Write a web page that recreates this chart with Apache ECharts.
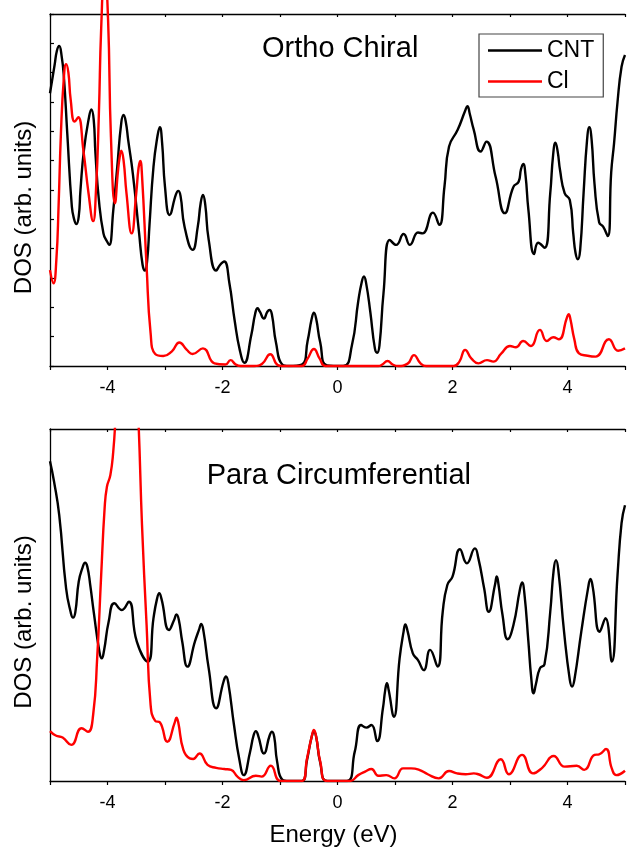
<!DOCTYPE html>
<html>
<head>
<meta charset="utf-8">
<script src="https://cdn.jsdelivr.net/npm/echarts@6/dist/echarts.min.js"></script>
<style>
  html, body { margin: 0; padding: 0; background: #fff; }
  #chart { width: 628px; height: 850px; }
</style>
</head>
<body>
<div id="chart"></div>
<script>
// Energy axis ticks (eV)
const energyTicks = [-4, -2, 0, 2, 4];

// Ortho Chiral: CNT total DOS, [energy (eV), DOS]
const orthoCnt = [
  [-5.00, 9.30], [-4.92, 10.26], [-4.88, 10.75], [-4.84, 10.91], [-4.80, 10.60], [-4.76, 9.90], [-4.70, 7.94],
  [-4.62, 5.43], [-4.58, 5.00], [-4.54, 4.84], [-4.50, 5.10], [-4.47, 6.00], [-4.41, 7.36], [-4.32, 8.50],
  [-4.28, 8.75], [-4.24, 8.40], [-4.21, 7.26], [-4.15, 5.66], [-4.07, 4.52], [-4.01, 4.25], [-3.97, 4.13],
  [-3.90, 5.30], [-3.83, 6.80], [-3.76, 8.30], [-3.72, 8.56], [-3.68, 8.30], [-3.64, 7.70], [-3.56, 6.57],
  [-3.45, 4.52], [-3.39, 3.45], [-3.35, 3.25], [-3.31, 3.60], [-3.27, 4.80], [-3.20, 6.80], [-3.13, 7.85],
  [-3.09, 8.14], [-3.05, 7.60], [-3.00, 6.11], [-2.92, 5.15], [-2.81, 5.85], [-2.77, 5.97], [-2.73, 5.80],
  [-2.66, 4.75], [-2.52, 3.96], [-2.43, 4.75], [-2.38, 5.55], [-2.34, 5.83], [-2.30, 5.50], [-2.24, 4.30],
  [-2.11, 3.25], [-2.04, 3.45], [-1.97, 3.56], [-1.88, 2.82], [-1.79, 1.57], [-1.70, 0.55], [-1.62, 0.11],
  [-1.50, 1.05], [-1.43, 1.80], [-1.39, 1.97], [-1.35, 1.85], [-1.28, 1.62], [-1.22, 1.85], [-1.18, 1.91],
  [-1.14, 1.75], [-1.07, 0.80], [-0.96, 0.05], [-0.85, 0.00], [-0.62, 0.05], [-0.52, 0.85], [-0.45, 1.60],
  [-0.41, 1.82], [-0.37, 1.60], [-0.30, 0.80], [-0.18, 0.02], [0.10, 0.00], [0.25, 0.70], [0.36, 2.20],
  [0.42, 2.85], [0.46, 3.05], [0.50, 2.80], [0.57, 1.85], [0.65, 0.60], [0.69, 0.45], [0.73, 0.70],
  [0.80, 2.48], [0.91, 4.30], [1.02, 4.13], [1.15, 4.50], [1.26, 4.13], [1.40, 4.55], [1.48, 4.52],
  [1.66, 5.23], [1.77, 4.81], [1.86, 6.11], [1.94, 7.48], [2.09, 8.05], [2.22, 8.70], [2.26, 8.86],
  [2.30, 8.60], [2.37, 8.05], [2.49, 7.31], [2.59, 7.65], [2.75, 6.45], [2.91, 5.21], [3.06, 6.11],
  [3.15, 6.28], [3.19, 6.70], [3.23, 6.89], [3.27, 6.50], [3.32, 5.32], [3.42, 3.82], [3.49, 4.20],
  [3.60, 4.03], [3.70, 5.89], [3.75, 7.20], [3.79, 7.61], [3.83, 7.30], [3.87, 6.68], [3.95, 5.89],
  [4.04, 5.66], [4.10, 4.52], [4.14, 3.85], [4.18, 3.64], [4.22, 3.95], [4.28, 5.90], [4.34, 7.70],
  [4.38, 8.14], [4.42, 7.70], [4.47, 6.20], [4.55, 4.90], [4.62, 4.75], [4.70, 4.43], [4.76, 6.60],
  [4.81, 7.60], [4.87, 9.00], [4.94, 10.20], [5.00, 10.60]
];

// Ortho Chiral: Cl projected DOS
const orthoCl = [
  [-5.00, 3.27], [-4.94, 2.82], [-4.89, 3.60], [-4.85, 5.50], [-4.81, 7.93], [-4.76, 9.80], [-4.72, 10.29],
  [-4.68, 10.00], [-4.64, 9.07], [-4.57, 8.33], [-4.51, 8.48], [-4.42, 7.36], [-4.33, 5.89], [-4.25, 4.94],
  [-4.20, 6.00], [-4.15, 8.60], [-4.11, 11.50], [-4.05, 13.60], [-3.99, 11.80], [-3.94, 7.80], [-3.87, 5.55],
  [-3.82, 6.60], [-3.79, 7.10], [-3.76, 7.34], [-3.72, 7.00], [-3.67, 5.89], [-3.58, 4.52], [-3.50, 5.89],
  [-3.46, 6.75], [-3.43, 6.99], [-3.40, 6.50], [-3.32, 3.39], [-3.25, 1.11], [-3.17, 0.41], [-3.03, 0.34],
  [-2.88, 0.50], [-2.75, 0.80], [-2.62, 0.55], [-2.52, 0.41], [-2.34, 0.60], [-2.14, 0.09], [-1.95, 0.05],
  [-1.86, 0.20], [-1.77, 0.05], [-1.68, 0.00], [-1.45, 0.00], [-1.31, 0.08], [-1.17, 0.40], [-1.04, 0.03],
  [-0.96, 0.00], [-0.62, 0.00], [-0.52, 0.25], [-0.41, 0.58], [-0.31, 0.25], [-0.21, 0.00], [0.71, 0.00],
  [0.78, 0.05], [0.87, 0.17], [0.96, 0.05], [1.05, 0.00], [1.22, 0.08], [1.33, 0.37], [1.44, 0.10],
  [1.54, 0.00], [2.02, 0.00], [2.12, 0.15], [2.22, 0.55], [2.33, 0.25], [2.45, 0.09], [2.60, 0.20],
  [2.71, 0.15], [2.85, 0.43], [3.00, 0.68], [3.10, 0.64], [3.23, 0.85], [3.36, 0.68], [3.52, 1.23],
  [3.64, 0.85], [3.75, 0.98], [3.85, 0.91], [3.99, 1.65], [4.02, 1.77], [4.05, 1.60], [4.12, 0.90],
  [4.20, 0.43], [4.35, 0.35], [4.49, 0.32], [4.72, 0.91], [4.88, 0.52], [5.00, 0.60]
];

// Para Circumferential: CNT total DOS
const paraCnt = [
  [-5.00, 10.90], [-4.93, 10.21], [-4.84, 9.07], [-4.72, 6.57], [-4.64, 5.75], [-4.60, 5.57], [-4.56, 5.75],
  [-4.50, 6.80], [-4.43, 7.30], [-4.39, 7.44], [-4.35, 7.30], [-4.30, 6.68], [-4.24, 5.77], [-4.14, 4.40],
  [-4.10, 4.18], [-4.06, 4.45], [-3.98, 5.43], [-3.88, 6.06], [-3.75, 5.83], [-3.63, 6.11], [-3.49, 4.75],
  [-3.30, 4.07], [-3.20, 5.55], [-3.14, 6.20], [-3.10, 6.40], [-3.06, 6.20], [-2.93, 5.15], [-2.84, 5.50],
  [-2.80, 5.68], [-2.76, 5.50], [-2.70, 4.75], [-2.61, 3.90], [-2.48, 4.75], [-2.41, 5.15], [-2.37, 5.35],
  [-2.33, 5.10], [-2.24, 3.84], [-2.11, 2.48], [-1.98, 3.40], [-1.94, 3.56], [-1.90, 3.35], [-1.80, 1.91],
  [-1.71, 0.77], [-1.63, 0.20], [-1.52, 1.00], [-1.46, 1.55], [-1.42, 1.70], [-1.38, 1.55], [-1.28, 0.94],
  [-1.18, 1.55], [-1.14, 1.68], [-1.10, 1.50], [-1.05, 0.66], [-0.96, 0.05], [-0.85, 0.00], [-0.62, 0.00],
  [-0.53, 0.72], [-0.45, 1.50], [-0.41, 1.68], [-0.37, 1.50], [-0.30, 0.62], [-0.18, 0.00], [0.16, 0.00],
  [0.30, 1.00], [0.41, 1.91], [0.50, 1.82], [0.59, 1.91], [0.69, 1.36], [0.79, 2.48], [0.83, 3.10],
  [0.86, 3.33], [0.89, 3.10], [0.98, 2.19], [1.08, 4.18], [1.15, 5.10], [1.18, 5.34], [1.22, 5.10],
  [1.31, 4.35], [1.40, 4.12], [1.50, 3.78], [1.61, 4.47], [1.74, 3.90], [1.83, 5.77], [1.91, 6.68],
  [2.00, 6.97], [2.13, 7.90], [2.25, 7.42], [2.39, 7.93], [2.45, 7.59], [2.55, 6.57], [2.63, 5.77],
  [2.74, 6.70], [2.77, 6.97], [2.80, 6.70], [2.87, 5.66], [2.96, 4.83], [3.06, 5.32], [3.17, 6.50],
  [3.21, 6.77], [3.25, 6.40], [3.32, 4.75], [3.37, 3.50], [3.41, 2.99], [3.45, 3.30], [3.52, 3.84],
  [3.60, 3.98], [3.70, 5.77], [3.76, 7.20], [3.80, 7.53], [3.84, 7.20], [3.94, 5.09], [4.04, 3.45],
  [4.08, 3.22], [4.12, 3.45], [4.24, 5.09], [4.36, 6.60], [4.40, 6.89], [4.44, 6.60], [4.56, 5.09],
  [4.66, 5.55], [4.77, 4.07], [4.87, 7.02], [4.94, 8.79], [5.00, 9.40]
];

// Para Circumferential: Cl projected DOS
const paraCl = [
  [-5.00, 1.70], [-4.90, 1.55], [-4.78, 1.48], [-4.63, 1.23], [-4.45, 1.80], [-4.34, 1.68], [-4.25, 2.25],
  [-4.18, 4.18], [-4.11, 7.02], [-4.05, 9.30], [-4.01, 10.03], [-3.95, 10.43], [-3.90, 11.23], [-3.86, 12.40],
  [-3.80, 14.50], [-3.66, 15.50], [-3.52, 14.50], [-3.46, 12.20], [-3.40, 8.73], [-3.32, 5.32], [-3.25, 2.59],
  [-3.17, 2.05], [-3.09, 2.00], [-2.96, 1.34], [-2.83, 2.00], [-2.80, 2.16], [-2.77, 2.00], [-2.68, 1.06],
  [-2.57, 0.77], [-2.51, 0.75], [-2.40, 0.94], [-2.26, 0.55], [-2.11, 0.45], [-1.97, 0.41], [-1.85, 0.38],
  [-1.74, 0.15], [-1.63, 0.03], [-1.42, 0.18], [-1.32, 0.15], [-1.16, 0.52], [-0.99, 0.00], [-0.62, 0.00],
  [-0.53, 0.77], [-0.45, 1.50], [-0.41, 1.74], [-0.37, 1.50], [-0.30, 0.66], [-0.18, 0.00], [0.22, 0.00],
  [0.36, 0.20], [0.48, 0.32], [0.59, 0.41], [0.71, 0.18], [0.85, 0.20], [0.99, 0.09], [1.14, 0.43],
  [1.28, 0.43], [1.42, 0.38], [1.57, 0.23], [1.76, 0.09], [1.94, 0.34], [2.08, 0.26], [2.23, 0.23],
  [2.37, 0.26], [2.45, 0.23], [2.60, 0.11], [2.84, 0.74], [2.98, 0.23], [3.21, 0.89], [3.40, 0.26],
  [3.56, 0.45], [3.76, 0.85], [3.95, 0.49], [4.16, 0.52], [4.29, 0.38], [4.47, 0.89], [4.55, 0.91],
  [4.67, 1.09], [4.77, 0.43], [4.85, 0.20], [5.00, 0.35]
];

const FONT = "'Liberation Sans', Arial, Helvetica, sans-serif";
const AXIS_COLOR = '#000';
const gridLeft = 50, gridWidth = 580.5, gridHeight = 352;
const gridTops = [14, 429];

function bottomAxis(gi) {
  return {
    type: 'value', gridIndex: gi, position: 'bottom', min: -5, max: 5, interval: 1,
    axisLine: { onZero: false, lineStyle: { color: AXIS_COLOR, width: 1.3 } },
    axisTick: { inside: false, length: 4, lineStyle: { color: AXIS_COLOR, width: 1.2 } },
    axisLabel: {
      margin: 13, color: '#000', fontSize: 18, fontFamily: FONT,
      formatter: v => (energyTicks.indexOf(v) >= 0 ? String(v) : '')
    },
    splitLine: { show: false }
  };
}
function topAxis(gi) {
  return {
    type: 'value', gridIndex: gi, position: 'top', min: -5, max: 5, interval: 1,
    axisLine: { onZero: false, lineStyle: { color: AXIS_COLOR, width: 1.3 } },
    axisTick: { inside: true, length: 3, lineStyle: { color: AXIS_COLOR, width: 1.2 } },
    axisLabel: { show: false },
    splitLine: { show: false }
  };
}
function leftAxis(gi, ticks) {
  return {
    type: 'value', gridIndex: gi, position: 'left', min: 0, max: 12, interval: 1,
    axisLine: { onZero: false, lineStyle: { color: AXIS_COLOR, width: 1.3 } },
    axisTick: { show: ticks, inside: true, length: 4, lineStyle: { color: AXIS_COLOR, width: 1.2 } },
    axisLabel: { show: false },
    splitLine: { show: false }
  };
}
function curve(name, color, xi, yi, data, clip) {
  return {
    name, type: 'line', xAxisIndex: xi, yAxisIndex: yi, data,
    symbol: 'none', smooth: 0.5, clip,
    lineStyle: { color, width: 2.4 }, itemStyle: { color },
    emphasis: { disabled: true }
  };
}

const chart = echarts.init(document.getElementById('chart'), null, { renderer: 'canvas' });
chart.setOption({
  animation: false,
  backgroundColor: '#fff',
  grid: gridTops.map(t => ({ left: gridLeft, top: t, width: gridWidth, height: gridHeight })),
  xAxis: [bottomAxis(0), topAxis(0), bottomAxis(1), topAxis(1)],
  yAxis: [leftAxis(0, true), leftAxis(1, false)],
  legend: {
    data: ['CNT', 'Cl'],
    orient: 'vertical', left: 479, top: 34,
    padding: [5, 9, 4, 9], itemGap: 8,
    icon: 'rect', itemWidth: 54, itemHeight: 2.6,
    borderColor: '#444', borderWidth: 1.2,
    textStyle: { fontSize: 23, fontFamily: FONT, color: '#000' },
    selectedMode: false
  },
  graphic: [
    { type: 'text', left: 262, top: 34, style: { text: 'Ortho Chiral', font: `29px ${FONT}`, fill: '#000' } },
    { type: 'text', left: 206.7, top: 461, style: { text: 'Para Circumferential', font: `29px ${FONT}`, fill: '#000' } },
    { type: 'text', x: 24.5, y: 207.5, rotation: Math.PI / 2,
      style: { text: 'DOS (arb. units)', font: `24px ${FONT}`, fill: '#000', align: 'center', verticalAlign: 'middle' } },
    { type: 'text', x: 24.5, y: 622, rotation: Math.PI / 2,
      style: { text: 'DOS (arb. units)', font: `24px ${FONT}`, fill: '#000', align: 'center', verticalAlign: 'middle' } },
    { type: 'text', x: 333.5, y: 835, style: { text: 'Energy (eV)', font: `24px ${FONT}`, fill: '#000', align: 'center', verticalAlign: 'middle' } }
  ],
  series: [
    curve('CNT', '#000000', 0, 0, orthoCnt, true),
    curve('Cl', '#ff0000', 0, 0, orthoCl, false),
    curve('CNT', '#000000', 2, 1, paraCnt, true),
    curve('Cl', '#ff0000', 2, 1, paraCl, true)
  ]
});
</script>
</body>
</html>
